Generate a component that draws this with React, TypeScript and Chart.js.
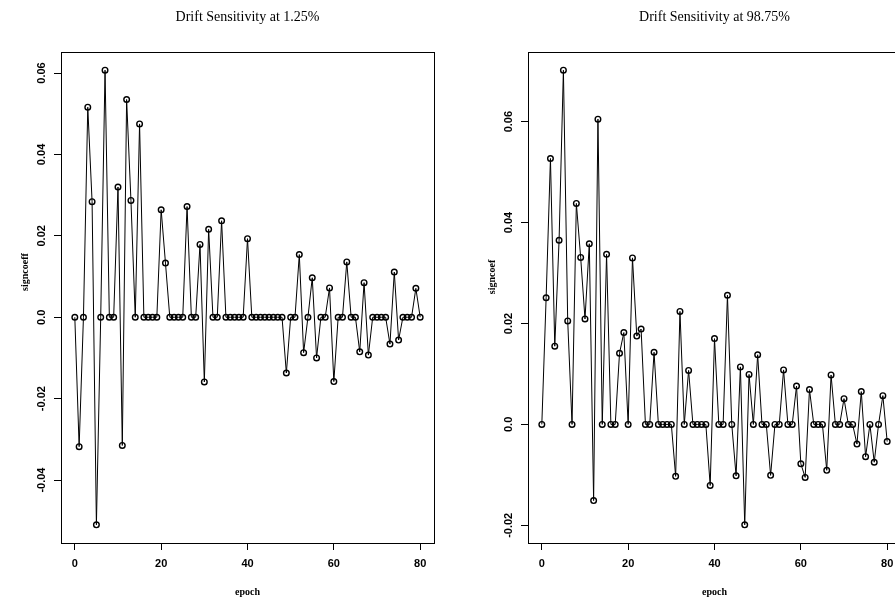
import React, { useEffect, useRef } from "react";
import { Chart, registerables } from "chart.js";

Chart.register(...registerables);

// ---------- data ----------
const EPOCHS = [
  0, 1, 2, 3, 4, 5, 6, 7, 8, 9, 10, 11, 12, 13, 14, 15, 16, 17, 18, 19, 20,
  21, 22, 23, 24, 25, 26, 27, 28, 29, 30, 31, 32, 33, 34, 35, 36, 37, 38, 39, 40,
  41, 42, 43, 44, 45, 46, 47, 48, 49, 50, 51, 52, 53, 54, 55, 56, 57, 58, 59, 60,
  61, 62, 63, 64, 65, 66, 67, 68, 69, 70, 71, 72, 73, 74, 75, 76, 77, 78, 79, 80,
];

const LEFT_TITLE = "Drift Sensitivity at 1.25%";
const RIGHT_TITLE = "Drift Sensitivity at 98.75%";
const X_LABEL = "epoch";
const LEFT_Y_LABEL = "signcoeff";
const RIGHT_Y_LABEL = "signcoef";

const LEFT_VALUES = [
  0, -0.0318, 0, 0.0516, 0.0284, -0.051, 0, 0.0607, 0, 0, 0.032,
  -0.0315, 0.0535, 0.0287, 0, 0.0475, 0, 0, 0, 0, 0.0264,
  0.0133, 0, 0, 0, 0, 0.0272, 0, 0, 0.0179, -0.0159,
  0.0216, 0, 0, 0.0237, 0, 0, 0, 0, 0, 0.0193,
  0, 0, 0, 0, 0, 0, 0, 0, -0.0137, 0,
  0, 0.0154, -0.0087, 0, 0.0097, -0.01, 0, 0, 0.0072, -0.0158,
  0, 0, 0.0136, 0, 0, -0.0085, 0.0085, -0.0093, 0, 0,
  0, 0, -0.0066, 0.0111, -0.0056, 0, 0, 0, 0.0071, 0,
];

const RIGHT_VALUES = [
  0, 0.0251, 0.0527, 0.0155, 0.0365, 0.0702, 0.0205, 0, 0.0438, 0.0331, 0.0209,
  0.0358, -0.0151, 0.0605, 0, 0.0337, 0, 0, 0.0141, 0.0182, 0,
  0.033, 0.0175, 0.0189, 0, 0, 0.0143, 0, 0, 0, 0,
  -0.0103, 0.0224, 0, 0.0107, 0, 0, 0, 0, -0.0121, 0.017,
  0, 0, 0.0256, 0, -0.0102, 0.0114, -0.0199, 0.0099, 0, 0.0138,
  0, 0, -0.0101, 0, 0, 0.0108, 0, 0, 0.0076, -0.0078,
  -0.0105, 0.0069, 0, 0, 0, -0.0091, 0.0098, 0, 0, 0.0051,
  0, 0, -0.0039, 0.0065, -0.0064, 0, -0.0075, 0, 0.0057, -0.0034,
];

const X_TICKS = [0, 20, 40, 60, 80];
const LEFT_Y_TICKS = [-0.04, -0.02, 0, 0.02, 0.04, 0.06];
const RIGHT_Y_TICKS = [-0.02, 0, 0.02, 0.04, 0.06];

// ---------- helpers ----------
const CANVAS_W = 467;
const CANVAS_H = 603;

function rRange(vals: number[]): [number, number] {
  const lo = Math.min(...vals);
  const hi = Math.max(...vals);
  const pad = (hi - lo) * 0.04;
  return [lo - pad, hi + pad];
}

function fmtY(v: number): string {
  if (Math.abs(v) < 1e-12) return "0.0";
  return v.toFixed(2);
}

const framePlugin = {
  id: "rframe",
  afterDraw(chart: any, _args: any, opts: any) {
    const { ctx, chartArea } = chart;
    const { left, top, right, bottom } = chartArea;
    ctx.save();
    ctx.strokeStyle = "#000";
    ctx.lineWidth = 1;
    ctx.strokeRect(
      Math.round(left) + 0.5,
      Math.round(top) + 0.5,
      Math.round(right - left),
      Math.round(bottom - top)
    );
    ctx.fillStyle = "#000";
    ctx.textAlign = "center";
    ctx.textBaseline = "middle";
    ctx.font = '14px "Liberation Serif"';
    ctx.fillText(opts.title, (left + right) / 2, 17);
    ctx.font = 'bold 10px "Liberation Serif"';
    ctx.fillText(opts.xLabel, (left + right) / 2, 592);
    ctx.translate(25, opts.yLabelY);
    ctx.rotate(-Math.PI / 2);
    ctx.fillText(opts.yLabel, 0, 0);
    ctx.restore();
  },
};

function Panel(props: {
  values: number[];
  yTicks: number[];
  title: string;
  yLabel: string;
  yLabelY: number;
  left: number;
}) {
  const ref = useRef<HTMLCanvasElement | null>(null);
  useEffect(() => {
    if (!ref.current) return;
    const [ymin, ymax] = rRange(props.values);
    const tickFont = { family: '"Liberation Sans"', size: 11, weight: "bold" as const };
    const chart = new Chart(ref.current, {
      type: "line",
      data: {
        datasets: [
          {
            data: EPOCHS.map((e, i) => ({ x: e, y: props.values[i] })),
            borderColor: "#000",
            borderWidth: 1,
            pointRadius: 2.8,
            pointBorderWidth: 1.4,
            pointBorderColor: "#000",
            pointBackgroundColor: "rgba(0,0,0,0)",
            tension: 0,
            fill: false,
          },
        ],
      },
      options: {
        animation: false,
        responsive: false,
        devicePixelRatio: 1,
        layout: { padding: { top: 52, right: 33, left: 0, bottom: 0 } },
        plugins: {
          legend: { display: false },
          tooltip: { enabled: false },
          title: { display: false },
          rframe: {
            title: props.title,
            xLabel: X_LABEL,
            yLabel: props.yLabel,
            yLabelY: props.yLabelY,
          },
        } as any,
        scales: {
          x: {
            type: "linear",
            min: -3.2,
            max: 83.2,
            afterBuildTicks: (s: any) => {
              s.ticks = X_TICKS.map((v) => ({ value: v }));
            },
            afterFit: (s: any) => {
              s.height = 60;
            },
            grid: {
              display: true,
              drawOnChartArea: false,
              drawTicks: true,
              tickLength: 7,
              color: "#000",
              lineWidth: 1,
            },
            border: { display: false },
            ticks: {
              font: tickFont,
              color: "#000",
              padding: 7,
              maxRotation: 0,
              autoSkip: false,
              callback: (v: any) => String(v),
            },
          },
          y: {
            type: "linear",
            min: ymin,
            max: ymax,
            afterBuildTicks: (s: any) => {
              s.ticks = props.yTicks.map((v) => ({ value: v }));
            },
            afterFit: (s: any) => {
              s.width = 61;
            },
            grid: {
              display: true,
              drawOnChartArea: false,
              drawTicks: true,
              tickLength: 7,
              color: "#000",
              lineWidth: 1,
            },
            border: { display: false },
            ticks: {
              font: tickFont,
              color: "#000",
              padding: -1,
              minRotation: 90,
              maxRotation: 90,
              crossAlign: "center",
              autoSkip: false,
              callback: (v: any) => fmtY(Number(v)),
            },
          },
        },
      },
      plugins: [framePlugin],
    });
    return () => chart.destroy();
  }, []);
  return (
    <canvas
      ref={ref}
      width={CANVAS_W}
      height={CANVAS_H}
      style={{
        position: "absolute",
        left: props.left,
        top: 0,
        width: CANVAS_W,
        height: CANVAS_H,
      }}
    />
  );
}

export default function App() {
  return (
    <div
      style={{
        position: "fixed",
        left: 0,
        top: 0,
        width: 895,
        height: 603,
        overflow: "hidden",
        background: "#fff",
      }}
    >
      <Panel
        values={LEFT_VALUES}
        yTicks={LEFT_Y_TICKS}
        title={LEFT_TITLE}
        yLabel={LEFT_Y_LABEL}
        yLabelY={272}
        left={0}
      />
      <Panel
        values={RIGHT_VALUES}
        yTicks={RIGHT_Y_TICKS}
        title={RIGHT_TITLE}
        yLabel={RIGHT_Y_LABEL}
        yLabelY={277}
        left={CANVAS_W}
      />
    </div>
  );
}
